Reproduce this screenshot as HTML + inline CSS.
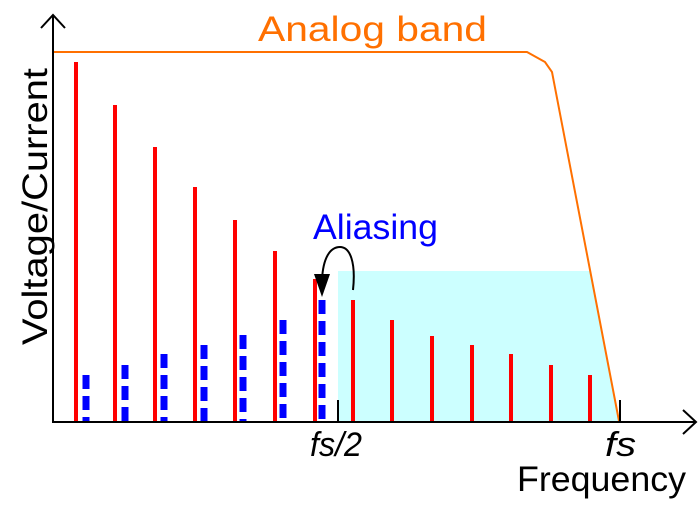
<!DOCTYPE html>
<html><head><meta charset="utf-8"><style>html,body{margin:0;padding:0;background:#fff}svg{display:block}</style></head>
<body>
<svg width="700" height="505" viewBox="0 0 700 505" xmlns="http://www.w3.org/2000/svg" font-family="Liberation Sans, sans-serif">
<polygon points="338,271 591,271 619,421 338,421" fill="#ccffff"/>
<polyline points="53,52 527,52 545,62 552,72 619,421" fill="none" stroke="#ff7000" stroke-width="2"/>
<g stroke="#ff0000" stroke-width="4">
<line x1="76" y1="62" x2="76" y2="421"/>
<line x1="115" y1="105" x2="115" y2="421"/>
<line x1="155" y1="147" x2="155" y2="421"/>
<line x1="195" y1="187" x2="195" y2="421"/>
<line x1="235" y1="220" x2="235" y2="421"/>
<line x1="275" y1="251" x2="275" y2="421"/>
<line x1="315" y1="279" x2="315" y2="421"/>
<line x1="353" y1="300" x2="353" y2="421"/>
<line x1="392" y1="320" x2="392" y2="421"/>
<line x1="432" y1="336" x2="432" y2="421"/>
<line x1="472" y1="345" x2="472" y2="421"/>
<line x1="511" y1="354" x2="511" y2="421"/>
<line x1="551" y1="365" x2="551" y2="421"/>
<line x1="590" y1="375" x2="590" y2="421"/>
</g>
<g stroke="#0000ff" stroke-width="7" stroke-dasharray="14,7">
<line x1="86" y1="375" x2="86" y2="421"/>
<line x1="125" y1="365" x2="125" y2="421"/>
<line x1="164" y1="354" x2="164" y2="421"/>
<line x1="204" y1="345" x2="204" y2="421"/>
<line x1="243" y1="335" x2="243" y2="421"/>
<line x1="283" y1="320" x2="283" y2="421"/>
<line x1="322" y1="300" x2="322" y2="421"/>
</g>
<g stroke="#000" stroke-width="2" fill="none">
<line x1="53" y1="15" x2="53" y2="422"/>
<line x1="52" y1="422" x2="696" y2="422"/>
<polyline points="41,28 53,15 65,28"/>
<polyline points="683,410 696,422 683,434"/>
<line x1="338" y1="400" x2="338" y2="422"/>
<line x1="620" y1="400" x2="620" y2="422"/>
<path d="M353,290 C356,262 350,247 340,247 C330,247 323,258 322,280"/>
</g>
<polygon points="314,274 330,274 322,297" fill="#000"/>
<text x="258" y="41" font-size="35" fill="#ff7000" textLength="229" lengthAdjust="spacingAndGlyphs">Analog band</text>
<text x="313" y="239" font-size="35" fill="#0000ff" textLength="125" lengthAdjust="spacingAndGlyphs">Aliasing</text>
<text x="310" y="456" font-size="34" font-style="italic" textLength="52" lengthAdjust="spacingAndGlyphs">fs/2</text>
<text x="605" y="456" font-size="34" font-style="italic" textLength="31" lengthAdjust="spacingAndGlyphs">fs</text>
<text x="517" y="491" font-size="35" textLength="169" lengthAdjust="spacingAndGlyphs">Frequency</text>
<text transform="translate(47,345) rotate(-90)" font-size="35" textLength="277" lengthAdjust="spacingAndGlyphs">Voltage/Current</text>
</svg>
</body></html>
